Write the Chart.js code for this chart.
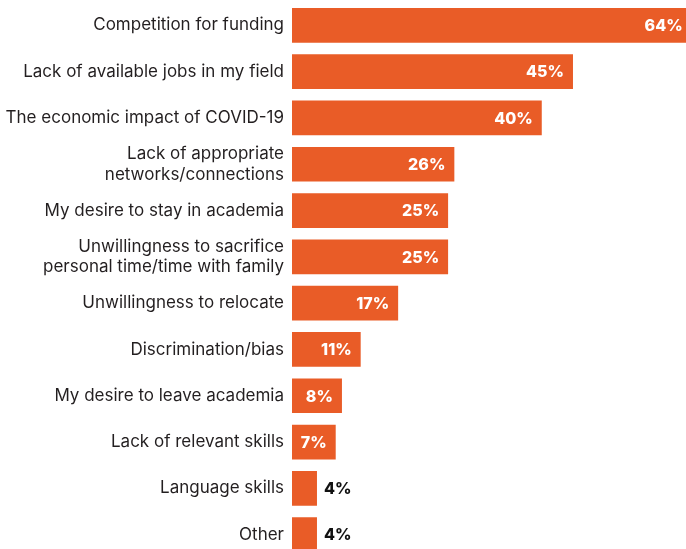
<!DOCTYPE html>
<html>
<head>
<meta charset="utf-8">
<script src="https://cdn.jsdelivr.net/npm/chart.js@4/dist/chart.umd.min.js"></script>
<style>
  html, body { margin: 0; padding: 0; background: #fff; overflow: hidden; }
  #wrap { position: relative; top: -16px; width: 686px; height: 592px; }
</style>
</head>
<body>
<div id="wrap"><canvas id="barChart"></canvas></div>
<script>
// reasons, top to bottom
var categories = [
  "Competition for funding",
  "Lack of available jobs in my field",
  "The economic impact of COVID-19",
  ["Lack of appropriate", "networks/connections"],
  "My desire to stay in academia",
  ["Unwillingness to sacrifice", "personal time/time with family"],
  "Unwillingness to relocate",
  "Discrimination/bias",
  "My desire to leave academia",
  "Lack of relevant skills",
  "Language skills",
  "Other"
];
var values = [64, 45, 40, 26, 25, 25, 17, 11, 8, 7, 4, 4];
var barColor = "#E95C27";

// percent labels: white inside the bar, black outside when the bar is too short
var valueLabels = {
  id: "valueLabels",
  afterDatasetsDraw: function (chart) {
    var ctx = chart.ctx;
    var meta = chart.getDatasetMeta(0);
    ctx.save();
    ctx.font = "800 16px Inter, 'Noto Sans', sans-serif";
    ctx.textBaseline = "middle";
    meta.data.forEach(function (bar, i) {
      var txt = values[i] + "%";
      var w = ctx.measureText(txt).width;
      if (bar.x - bar.base > w + 16) {
        ctx.fillStyle = "#ffffff";
        ctx.textAlign = "right";
        ctx.fillText(txt, bar.x - 9, bar.y + 1);
      } else {
        ctx.fillStyle = "#111111";
        ctx.textAlign = "left";
        ctx.fillText(txt, bar.x + 7, bar.y + 1);
      }
    });
    ctx.restore();
  }
};

var ctx = document.getElementById("barChart").getContext("2d");
var myChart = new Chart(ctx, {
  type: "bar",
  data: {
    labels: categories,
    datasets: [
      {
        data: values,
        backgroundColor: barColor,
        barPercentage: 0.75,
        categoryPercentage: 1.0
      }
    ]
  },
  options: {
    indexAxis: "y",
    responsive: true,
    maintainAspectRatio: false,
    animation: false,
    layout: { padding: 0 },
    plugins: {
      legend: { display: false },
      tooltip: { enabled: false }
    },
    scales: {
      x: {
        display: false,
        min: 0,
        max: 63.1
      },
      y: {
        grid: { display: false, drawTicks: false },
        border: { display: false },
        afterFit: function (scale) {
          scale.width = 292;
        },
        ticks: {
          color: "#231F20",
          padding: 8,
          font: { family: "Inter, 'Noto Sans', sans-serif", size: 17, lineHeight: 1.2 },
          autoSkip: false
        }
      }
    }
  },
  plugins: [valueLabels]
});
</script>
</body>
</html>
